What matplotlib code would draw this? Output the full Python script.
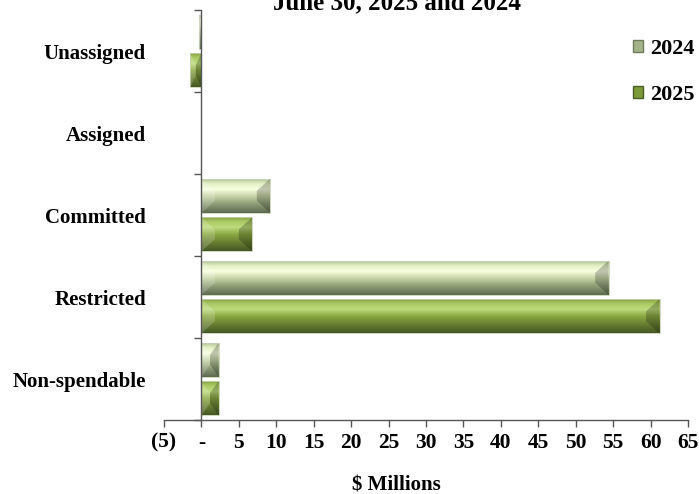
import numpy as np
import matplotlib
matplotlib.use("Agg")
import matplotlib.pyplot as plt
from matplotlib.colors import LinearSegmentedColormap
from matplotlib.patches import Polygon, Patch

# ---------------------------------------------------------------
#   data ($ millions)
categories = ["Non-spendable", "Restricted", "Committed", "Assigned", "Unassigned"]
values_2024 = [2.3, 54.4, 9.2, 0.0, -0.3]
values_2025 = [2.3, 61.2, 6.8, 0.0, -1.5]
series_labels = ["2024", "2025"]
xticks = list(range(-5, 70, 5))
xtick_labels = ["(5)", "-"] + [str(v) for v in range(5, 70, 5)]

plt.rcParams['font.family'] = ['Liberation Serif', 'DejaVu Serif']
plt.rcParams['font.weight'] = 'bold'

# bevel-like gradients, top -> bottom
grad_2024 = LinearSegmentedColormap.from_list("g24", [
    (0.0, "#a8b890"), (0.15, "#e2efc4"), (0.32, "#f7ffdf"),
    (0.52, "#c6d4a6"), (0.75, "#8e9c76"), (1.0, "#5e6a50")])
grad_2025 = LinearSegmentedColormap.from_list("g25", [
    (0.0, "#7e9a3a"), (0.15, "#a9c862"), (0.32, "#bedb7e"),
    (0.52, "#8aa842"), (0.75, "#687f30"), (1.0, "#455726")])

fig = plt.figure(figsize=(6.99, 4.94), dpi=100)
ax = fig.add_axes([164 / 699, 74 / 494, 524 / 699, 410 / 494])

y = np.arange(len(categories))
off = 0.235
h = 0.42
bars24 = ax.barh(y + off, values_2024, height=h, color="none", edgecolor="none")
bars25 = ax.barh(y - off, values_2025, height=h, color="none", edgecolor="none")

gy = np.linspace(0, 1, 200).reshape(-1, 1)
bx, by = 1.8, 0.15
for bars, cmap in ((bars24, grad_2024), (bars25, grad_2025)):
    for b in bars:
        x0, y0 = b.get_x(), b.get_y()
        w, hh = b.get_width(), b.get_height()
        if w < 0:
            x0, w = x0 + w, -w
        if w == 0:
            continue
        x1, y1 = x0 + w, y0 + hh
        im = ax.imshow(gy, cmap=cmap, aspect='auto', origin='upper',
                       extent=(x0, x1, y0, y1), interpolation='bilinear', zorder=2)
        im.set_clip_path(b)
        ex = min(bx, w / 2)
        ey = min(by, hh / 2)
        left = Polygon([(x0, y0), (x0 + ex, y0 + ey), (x0 + ex, y1 - ey), (x0, y1)],
                       closed=True, facecolor="white", alpha=0.18, edgecolor="none", zorder=3)
        right = Polygon([(x1, y0), (x1 - ex, y0 + ey), (x1 - ex, y1 - ey), (x1, y1)],
                        closed=True, facecolor="black", alpha=0.22, edgecolor="none", zorder=3)
        ax.add_patch(left)
        ax.add_patch(right)
        ax.add_patch(plt.Rectangle((x0, y0), w, hh, facecolor="none",
                                   edgecolor="#c8d2b4", lw=0.6, zorder=4))

ax.set_xlim(-5, 65)
ax.set_ylim(-0.5, len(categories) - 0.5)

# axes look
ax.spines['top'].set_visible(False)
ax.spines['right'].set_visible(False)
ax.spines['left'].set_position(('data', 0))
for s in ('left', 'bottom'):
    ax.spines[s].set_color("#555555")
    ax.spines[s].set_linewidth(1.0)
    ax.spines[s].set_zorder(5)

ax.set_xticks(xticks)
ax.set_xticklabels(xtick_labels, fontsize=15.5, fontweight='bold')
ax.tick_params(axis='x', direction='out', length=5, width=1, color="#555555", pad=4)

ax.set_yticks(y)
ax.set_yticklabels(categories, fontsize=15, fontweight='bold')
ax.set_yticks(np.arange(-0.5, len(categories), 1.0), minor=True)
ax.tick_params(axis='y', which='major', length=0, pad=40)
ax.tick_params(axis='y', which='minor', direction='out', length=5, width=1, color="#555555")

ax.set_xlabel("$ Millions", fontsize=15, fontweight='bold', va='center')
ax.xaxis.set_label_coords((396 - 164) / 524, (420 - 485) / 410)

# only the last title line shows in the reference, the rest runs off the top
fig.text(397 / 699, 1 - 9 / 494, "June 30, 2025 and 2024", ha='center', va='baseline',
         fontsize=18, fontweight='bold')

handles = [Patch(facecolor="#a4b48a", edgecolor="#6f7b5c"),
           Patch(facecolor="#7c9a38", edgecolor="#4a5c28")]
leg = ax.legend(handles, series_labels, loc='upper right', bbox_to_anchor=(1.05, 0.978),
                frameon=False, handlelength=0.45, handleheight=0.45,
                handletextpad=0.3, labelspacing=1.15, prop={'weight': 'bold', 'size': 16})

fig.savefig("out.png", dpi=100)
